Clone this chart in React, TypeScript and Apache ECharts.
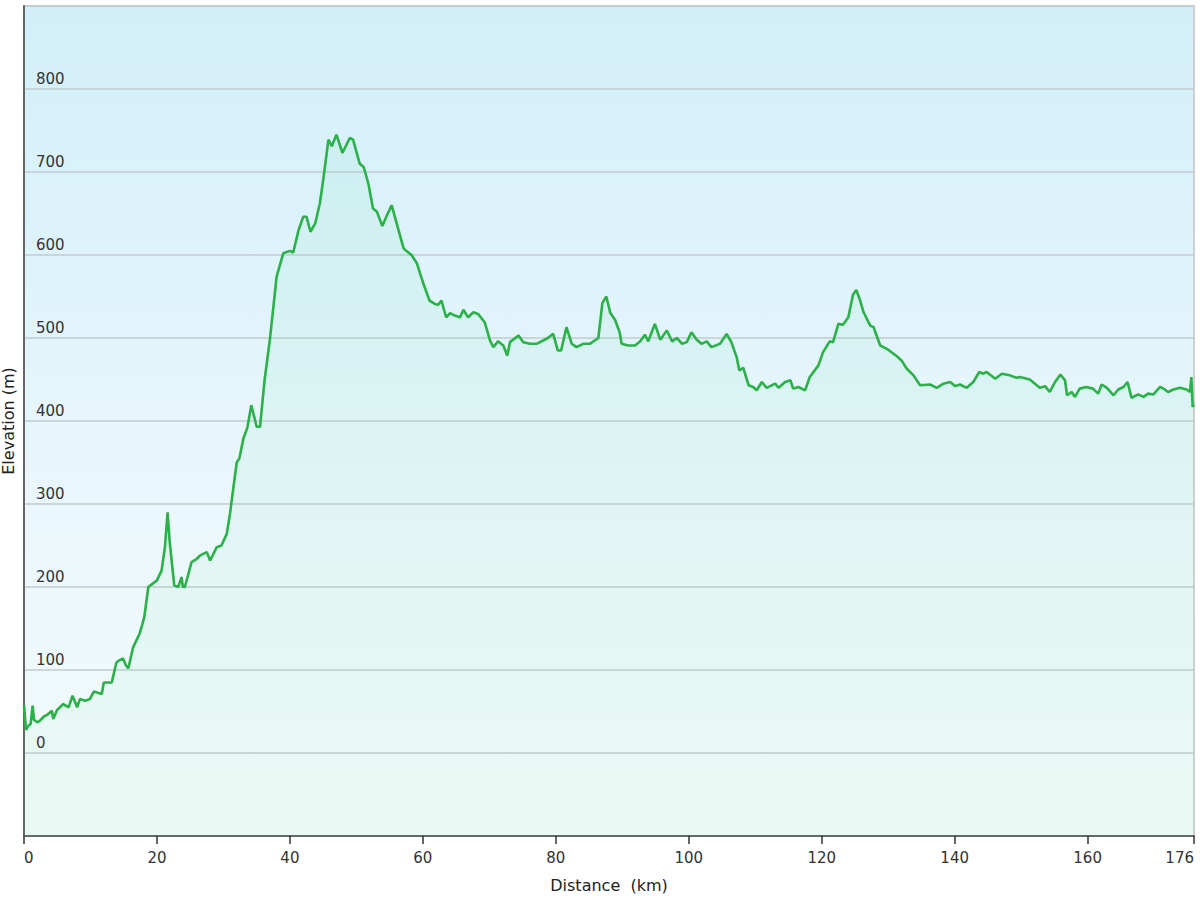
import React, { useEffect, useRef } from "react";
import * as echarts from "echarts";

const distanceKm = [
  0, 0.3, 0.7, 1.0, 1.3, 1.5, 2.0, 2.4, 3.0, 3.5, 4.2, 4.4, 5.0, 5.9, 6.3, 6.7, 7.3, 8.0, 8.4, 9.2,
  9.9, 10.5, 11.7, 12.0, 13.2, 13.9, 14.4, 14.9, 15.3, 15.7, 16.4, 17.4, 17.8, 18.1, 18.7, 20.0, 20.7, 21.2, 21.6, 21.9,
  22.6, 23.2, 23.7, 23.9, 24.2, 25.2, 26.0, 26.5, 27.5, 28.0, 29.0, 29.7, 30.5, 31.0, 31.5, 32.0, 32.4, 33.0, 33.6, 34.2,
  35.0, 35.5, 36.2, 37.0, 38.0, 39.0, 40.0, 40.5, 41.3, 42.0, 42.5, 43.1, 43.8, 44.5, 45.0, 45.8, 46.3, 47.0, 47.9, 49.0,
  49.5, 50.5, 51.1, 51.8, 52.5, 53.1, 53.9, 54.5, 55.3, 56.0, 57.1, 57.5, 58.3, 59.1, 60.1, 61.0, 61.8, 62.3, 62.8, 63.5,
  64.1, 64.8, 65.6, 66.1, 66.8, 67.6, 68.3, 69.3, 70.1, 70.6, 71.3, 72.1, 72.7, 73.1, 74.4, 75.1, 76.1, 77.1, 78.1, 78.8,
  79.6, 80.3, 80.8, 81.6, 82.4, 83.1, 84.1, 85.1, 86.4, 87.0, 87.6, 88.2, 88.9, 89.6, 89.9, 90.9, 91.9, 92.7, 93.4, 93.9,
  94.9, 95.7, 96.7, 97.5, 98.2, 99.0, 99.7, 100.4, 101.2, 101.9, 102.7, 103.4, 104.7, 105.7, 106.4, 107.2, 107.6, 108.2, 109.0, 109.7,
  110.2, 111.0, 111.7, 113.0, 113.5, 114.5, 115.3, 115.7, 116.5, 117.5, 118.2, 119.5, 120.2, 121.2, 121.7, 122.5, 123.2, 124.0, 124.7, 125.2,
  125.7, 126.3, 127.3, 127.8, 128.8, 129.8, 131.3, 132.0, 132.8, 133.8, 134.8, 136.3, 137.3, 138.3, 139.3, 140.1, 140.8, 141.8, 142.8, 143.7,
  144.3, 144.8, 146.1, 147.1, 148.3, 149.3, 149.8, 151.3, 152.8, 153.6, 154.3, 155.1, 155.9, 156.6, 156.9, 157.6, 158.1, 158.8, 159.8, 160.8,
  161.6, 162.1, 162.9, 163.9, 164.6, 165.4, 166.0, 166.6, 167.6, 168.4, 169.1, 169.9, 170.9, 171.6, 172.1, 172.9, 173.9, 174.9, 175.4, 175.6,
  175.8, 176.0,
];

const elevationM = [
  58, 28, 33, 35, 57, 40, 37, 39, 44, 46, 51, 41, 52, 59, 57, 55, 69, 55, 65, 63,
  65, 74, 71, 85, 85, 109, 112, 114, 106, 102, 127, 144, 155, 164, 200, 208, 220, 248, 290, 256,
  202, 200, 212, 200, 200, 230, 234, 238, 242, 232, 248, 250, 264, 289, 320, 350, 355, 379, 392, 419,
  393, 393, 450, 499, 574, 602, 605, 603, 630, 646, 646, 628, 638, 662, 690, 739, 731, 745, 723, 741,
  739, 710, 706, 686, 656, 652, 635, 646, 660, 640, 608, 605, 600, 590, 565, 545, 541, 540, 545, 525,
  530, 527, 525, 534, 525, 531, 529, 519, 497, 489, 496, 491, 479, 495, 503, 495, 493, 493, 497, 500,
  505, 485, 485, 513, 493, 489, 493, 493, 500, 542, 550, 530, 522, 507, 493, 491, 491, 496, 504, 496,
  517, 498, 509, 496, 500, 493, 495, 507, 498, 493, 496, 489, 493, 505, 495, 477, 461, 464, 443, 441,
  437, 447, 440, 445, 440, 447, 449, 439, 441, 437, 453, 467, 483, 496, 495, 517, 516, 525, 552, 558,
  547, 531, 515, 513, 491, 487, 478, 473, 463, 455, 443, 444, 440, 445, 447, 442, 444, 440, 447, 459,
  457, 459, 451, 457, 455, 452, 453, 450, 440, 442, 435, 447, 456, 449, 431, 435, 429, 439, 441, 439,
  433, 444, 440, 431, 438, 441, 447, 428, 432, 429, 433, 432, 441, 438, 435, 438, 440, 438, 435, 453,
  417, 420,
];

const xAxisName = "Distance  (km)";
const yAxisName = "Elevation (m)";

const FONT = "DejaVu Sans";

export default function App() {
  const ref = useRef<HTMLDivElement>(null);

  useEffect(() => {
    document.body.style.margin = "0";
    if (!ref.current) return;
    const chart = echarts.init(ref.current, undefined, { renderer: "svg" });
    const data = distanceKm.map((d, i) => [d, elevationM[i]]);
    chart.setOption({
      animation: false,
      backgroundColor: "#ffffff",
      grid: {
        left: 24,
        right: 6,
        top: 6,
        bottom: 64,
        show: true,
        containLabel: false,
        outerBoundsMode: "none",
        borderColor: "#cfcfcf",
        borderWidth: 2,
        backgroundColor: new echarts.graphic.LinearGradient(0, 0, 0, 1, [
          { offset: 0, color: "#d2eff9" },
          { offset: 0.6, color: "#eaf7fc" },
          { offset: 1, color: "#f3fbfc" },
        ]),
      },
      xAxis: {
        type: "value",
        min: 0,
        max: 176,
        interval: 20,
        name: xAxisName,
        nameLocation: "middle",
        nameGap: 41,
        nameTextStyle: { fontFamily: FONT, fontSize: 16, color: "#222" },
        axisLine: { show: true, onZero: false, lineStyle: { color: "#666", width: 2 } },
        axisTick: { show: true, length: 8, lineStyle: { color: "#333", width: 1.5 } },
        axisLabel: {
          fontFamily: FONT,
          fontSize: 15,
          color: "#333",
          margin: 14,
          alignMinLabel: "left",
          alignMaxLabel: "right",
        },
        splitLine: { show: false },
      },
      yAxis: {
        type: "value",
        min: -100,
        max: 900,
        interval: 100,
        name: yAxisName,
        nameLocation: "middle",
        nameGap: 8,
        nameRotate: 90,
        nameTextStyle: { fontFamily: FONT, fontSize: 16, color: "#222" },
        axisLine: { show: true, onZero: false, lineStyle: { color: "#666", width: 2 } },
        axisTick: { show: false },
        axisLabel: {
          inside: true,
          margin: 12,
          verticalAlign: "bottom",
          padding: [0, 0, 3, 0],
          fontFamily: FONT,
          fontSize: 15,
          color: "#333",
          formatter: (v: number) => (v < 0 || v > 800 ? "" : String(v)),
        },
        splitLine: { show: true, lineStyle: { color: "#c2cbcf", width: 1.5 } },
      },
      series: [
        {
          type: "line",
          data,
          symbol: "none",
          showSymbol: false,
          lineStyle: { color: "#2bb04a", width: 2.6 },
          itemStyle: { color: "#2bb04a" },
          areaStyle: {
            origin: "start",
            color: new echarts.graphic.LinearGradient(0, 0, 0, 1, [
              { offset: 0, color: "rgba(60, 205, 130, 0.10)" },
              { offset: 1, color: "rgba(60, 215, 110, 0.07)" },
            ]),
          },
        },
      ],
    });
    return () => chart.dispose();
  }, []);

  return <div ref={ref} style={{ width: 1200, height: 900 }} />;
}
